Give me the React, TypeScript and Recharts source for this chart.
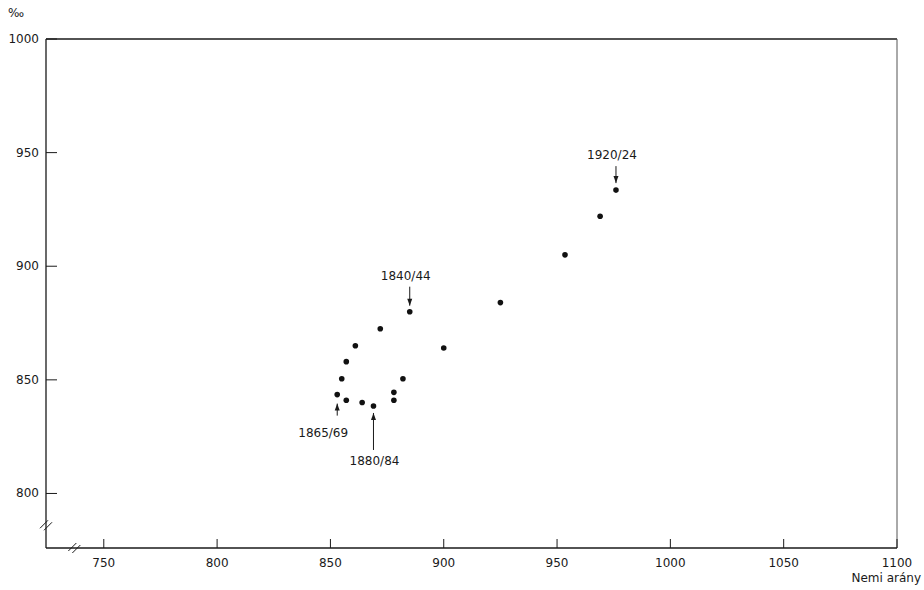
import React from 'react';
import { ScatterChart, Scatter, XAxis, YAxis, ReferenceLine, ReferenceDot } from 'recharts';

// Nemi arány (sex ratio) vs ‰ value
const sexRatio = [885, 872, 861, 900, 857, 855, 882, 853, 878, 857, 878, 864, 869, 925, 953.5, 969, 976];
const rate = [880, 872.5, 865, 864, 858, 850.5, 850.5, 843.5, 844.5, 841, 841, 840, 838.5, 884, 905, 922, 933.5];

const xTicks = [750, 800, 850, 900, 950, 1000, 1050, 1100];
const yTicks = [800, 850, 900, 950, 1000];

const annoLabels = ['1840/44', '1920/24', '1865/69', '1880/84'];
const annoX = [885, 976, 853, 869];
const annoY = [880, 933.5, 843.5, 838.5];
const annoDir = ['down', 'down', 'up', 'up'];

// styling for annotation arrows (pixel offsets)
const ANNO_STYLE: Record<string, { gap: number; len: number; textGap: number; dx: number }> = {
  '1840/44': { gap: 6, len: 19, textGap: 11, dx: -4 },
  '1920/24': { gap: 7, len: 17, textGap: 11, dx: -4 },
  '1865/69': { gap: 9, len: 12, textGap: 17, dx: -14 },
  '1880/84': { gap: 7, len: 37, textGap: 11, dx: 1 },
};

const points = sexRatio.map((x, i) => ({ x, y: rate[i] }));
const annotations = annoLabels.map((label, i) => ({ x: annoX[i], y: annoY[i], label, dir: annoDir[i] }));

const FONT = '"DejaVu Sans", sans-serif';
const INK = '#1a1a1a';

const XTick = (props: any) => {
  const { x, y, payload } = props;
  return (
    <g>
      <line x1={x} y1={y} x2={x} y2={y - 9} stroke={INK} strokeWidth={1} />
      <text x={x} y={y + 19} textAnchor="middle" fontFamily={FONT} fontSize={12} fill={INK}>
        {payload.value}
      </text>
    </g>
  );
};

const YTick = (props: any) => {
  const { x, y, payload } = props;
  return (
    <g>
      <line x1={x} y1={y} x2={x + 11} y2={y} stroke={INK} strokeWidth={1} />
      <text x={x - 7} y={y + 4} textAnchor="end" fontFamily={FONT} fontSize={12} fill={INK}>
        {payload.value}
      </text>
    </g>
  );
};

const Dot = (props: any) => {
  const { cx, cy } = props;
  return <circle cx={cx} cy={cy} r={2.8} fill="#111" />;
};

const Annotation = (props: any) => {
  const { cx, cy, payload } = props;
  const s = ANNO_STYLE[payload.label];
  const sign = payload.dir === 'down' ? -1 : 1;
  const tipY = cy + sign * s.gap;
  const tailY = tipY + sign * s.len;
  const textY = payload.dir === 'down' ? tailY - s.textGap + 4 : tailY + s.textGap + 4;
  return (
    <g>
      <line x1={cx} y1={tailY} x2={cx} y2={tipY} stroke={INK} strokeWidth={1} />
      <path
        d={`M${cx},${tipY} L${cx - 2.5},${tipY + sign * 7} L${cx + 2.5},${tipY + sign * 7} Z`}
        fill={INK}
      />
      <text x={cx + s.dx} y={textY} textAnchor="middle" fontFamily={FONT} fontSize={12} fill={INK}>
        {payload.label}
      </text>
    </g>
  );
};

const BreakMark = (props: any) => {
  const { cx, cy } = props;
  return (
    <g stroke={INK} strokeWidth={1}>
      <line x1={cx - 6} y1={cy + 3} x2={cx + 2} y2={cy - 5} />
      <line x1={cx - 2} y1={cy + 5} x2={cx + 6} y2={cy - 3} />
    </g>
  );
};

export default function App() {
  return (
    <div style={{ position: 'absolute', left: 0, top: 0, width: 924, height: 590, background: '#fff' }}>
      <ScatterChart width={924} height={590} margin={{ top: 39, right: 27, bottom: 0, left: 0 }}>
        <XAxis
          type="number"
          dataKey="x"
          domain={[724.5, 1100]}
          ticks={xTicks}
          allowDataOverflow
          tickLine={false}
          tickSize={0}
          tickMargin={0}
          tick={<XTick />}
          height={42}
          axisLine={{ stroke: INK, strokeWidth: 1.3 }}
        />
        <YAxis
          type="number"
          dataKey="y"
          domain={[776, 1000]}
          ticks={yTicks}
          allowDataOverflow
          tickLine={false}
          tickSize={0}
          tickMargin={0}
          tick={<YTick />}
          width={46}
          axisLine={{ stroke: INK, strokeWidth: 1.3 }}
        />
        <ReferenceLine y={1000} stroke={INK} strokeWidth={1.3} ifOverflow="visible" />
        <ReferenceLine x={1100} stroke="#555" strokeWidth={1} ifOverflow="visible" />
        <ReferenceDot x={724.5} y={786} r={0} ifOverflow="visible" shape={<BreakMark />} />
        <ReferenceDot x={737} y={776} r={0} ifOverflow="visible" shape={<BreakMark />} />
        <Scatter data={points} shape={<Dot />} isAnimationActive={false} />
        <Scatter data={annotations} shape={<Annotation />} isAnimationActive={false} />
      </ScatterChart>
      <div style={{ position: 'absolute', left: 8, top: 6, fontFamily: FONT, fontSize: 12, color: INK }}>‰</div>
      <div style={{ position: 'absolute', right: 3, top: 571, fontFamily: FONT, fontSize: 12, color: INK }}>Nemi arány</div>
    </div>
  );
}
